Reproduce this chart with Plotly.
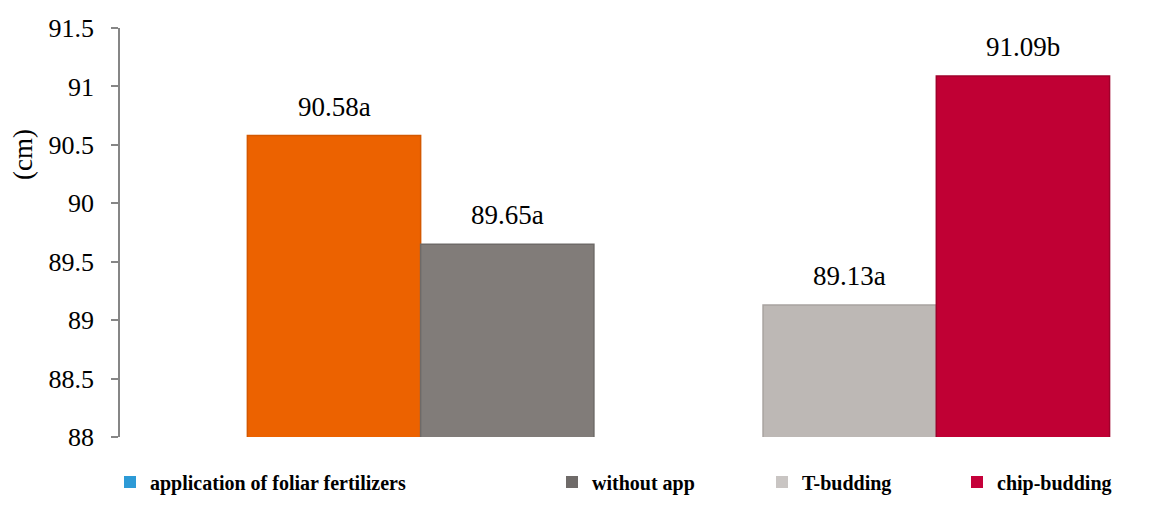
import plotly.graph_objects as go

# Data
groups = ["fertilizer", "budding"]
series_names = ["application of foliar fertilizers", "without app", "T-budding", "chip-budding"]
series_group = ["fertilizer", "fertilizer", "budding", "budding"]
values = [90.58, 89.65, 89.13, 91.09]
letters = ["a", "a", "a", "b"]

y_ticks = [88, 88.5, 89, 89.5, 90, 90.5, 91, 91.5]

# colours
BAR_COLORS = ["#EC6200", "#817C79", "#BDB8B5", "#C00034"]
EDGE_COLORS = ["#D45800", "#6E6A68", "#A8A3A0", "#A0002B"]
LEGEND_COLORS = ["#2D9AD6", "#6F6B69", "#C9C5C3", "#C5003A"]

# the page body has an 8px margin, so the figure is 8px smaller than the window
FIG_W, FIG_H = 1142, 497
# paper has no left/bottom margin, the plot sits in a sub-domain
# so the legends stay inside [0, 1] and don't push the margins around
PAPER_W, PAPER_H = 1132, 477
X_DOMAIN = [112 / PAPER_W, 1]
Y_DOMAIN = [68 / PAPER_H, 1]

# where each legend entry starts (px from the left), Excel spaced them unevenly
LEGEND_PX = [102, 544, 754, 949]

BAR_W = 0.336
FONT = "Liberation Serif, DejaVu Serif, serif"

fig = go.Figure()

for i, name in enumerate(series_names):
    # left bar of a group sits left of the category centre, right bar right of it
    left = series_group[:i].count(series_group[i]) == 0
    fig.add_trace(
        go.Bar(
            x=[series_group[i]],
            y=[values[i]],
            width=BAR_W,
            offset=-BAR_W if left else 0,
            marker=dict(color=BAR_COLORS[i], line=dict(color=EDGE_COLORS[i], width=1.5)),
            showlegend=False,
            hoverinfo="skip",
        )
    )
    fig.add_annotation(
        x=groups.index(series_group[i]) + (-BAR_W / 2 if left else BAR_W / 2),
        y=values[i],
        text=f"{values[i]:.2f}{letters[i]}",
        showarrow=False,
        yanchor="bottom",
        yshift=12,
        font=dict(family=FONT, size=27, color="#000000"),
    )

# legend swatches (Excel legend colours differ from the bars), one legend each
legend_layout = {}
for i, name in enumerate(series_names):
    lg = "legend" if i == 0 else f"legend{i + 1}"
    fig.add_trace(
        go.Bar(
            x=[None],
            y=[None],
            name=name,
            marker=dict(color=LEGEND_COLORS[i], line=dict(color="#FFFFFF", width=0)),
            showlegend=True,
            legend=lg,
        )
    )
    legend_layout[lg] = dict(
        orientation="h",
        x=LEGEND_PX[i] / PAPER_W,
        xanchor="left",
        y=23 / PAPER_H,
        yanchor="middle",
        bgcolor="rgba(0,0,0,0)",
        font=dict(family=FONT, size=20, color="#000000", weight="bold"),
        itemwidth=30,
    )

fig.add_annotation(
    xref="paper",
    yref="paper",
    x=15 / PAPER_W,
    y=350 / PAPER_H,
    xanchor="center",
    yanchor="middle",
    text="(cm)",
    textangle=-90,
    showarrow=False,
    font=dict(family=FONT, size=27, color="#000000"),
)

fig.update_layout(
    width=FIG_W,
    height=FIG_H,
    margin=dict(l=0, r=10, t=20, b=0),
    paper_bgcolor="white",
    plot_bgcolor="white",
    barmode="overlay",
    font=dict(family=FONT, size=21, color="#000000"),
    xaxis=dict(
        domain=X_DOMAIN,
        type="category",
        categoryorder="array",
        categoryarray=groups,
        range=[-0.583, 1.395],
        showticklabels=False,
        showline=False,
        showgrid=False,
        zeroline=False,
        ticks="",
        automargin=False,
    ),
    yaxis=dict(
        domain=Y_DOMAIN,
        range=[88, 91.5],
        tickvals=y_ticks,
        ticktext=[f"{v:g}" for v in y_ticks],
        showgrid=False,
        zeroline=False,
        showline=True,
        linecolor="#868686",
        linewidth=1.5,
        ticks="outside",
        ticklen=7,
        tickcolor="#868686",
        tickwidth=1.5,
        ticklabelstandoff=12,
        tickfont=dict(family=FONT, size=26, color="#000000"),
        automargin=False,
    ),
    **legend_layout,
)

fig.write_html("out.html")
